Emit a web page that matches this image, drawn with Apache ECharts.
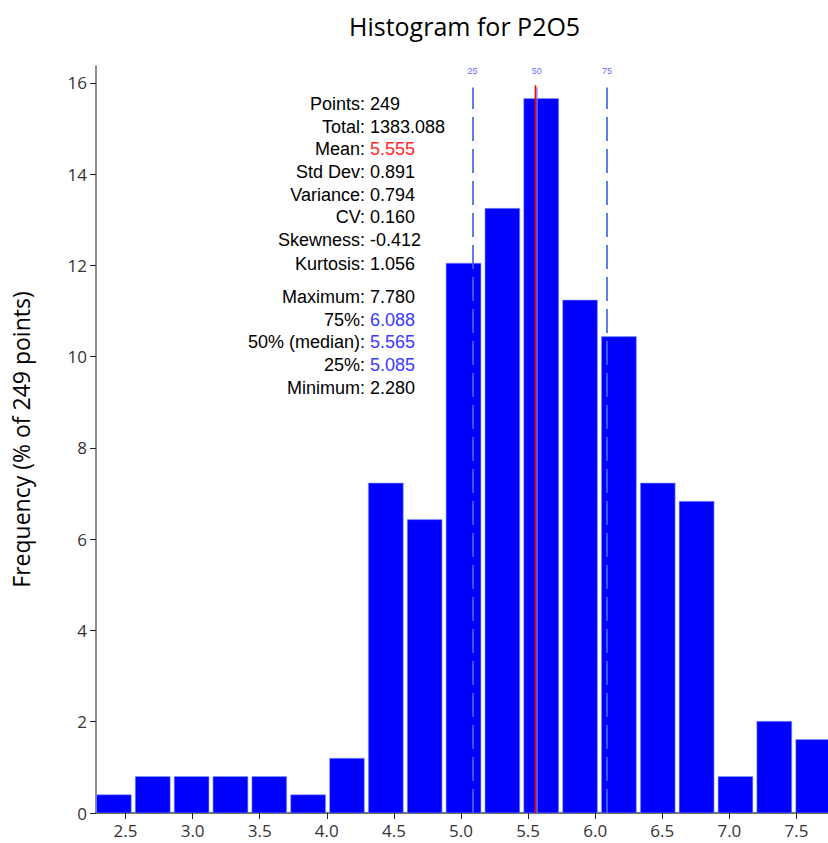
<!DOCTYPE html>
<html>
<head>
<meta charset="utf-8">
<title>Histogram for P2O5</title>
<script src="https://cdn.jsdelivr.net/npm/echarts@6/dist/echarts.min.js"></script>
<style>
  html, body { margin: 0; padding: 0; background: #fff; }
  #chart { width: 828px; height: 843px; }
</style>
</head>
<body>
<div id="chart"></div>
<script>
// bin edges (19 bins from min 2.28 to max 7.78)
var binEdges = [2.280, 2.569, 2.859, 3.148, 3.438, 3.727, 4.017, 4.306, 4.596, 4.885,
                5.175, 5.464, 5.754, 6.043, 6.333, 6.622, 6.912, 7.201, 7.491, 7.780];
// frequency in % of 249 points
var freqs = [0.40, 0.80, 0.80, 0.80, 0.80, 0.40, 1.20, 7.23, 6.43, 12.05,
             13.25, 15.66, 11.24, 10.44, 7.23, 6.83, 0.80, 2.01, 1.61];
var xTicks = [2.5, 3.0, 3.5, 4.0, 4.5, 5.0, 5.5, 6.0, 6.5, 7.0, 7.5];
var yTicks = [0, 2, 4, 6, 8, 10, 12, 14, 16];

var statNames = ["Points:", "Total:", "Mean:", "Std Dev:", "Variance:", "CV:", "Skewness:", "Kurtosis:",
                 "Maximum:", "75%:", "50% (median):", "25%:", "Minimum:"];
var statValues = ["249", "1383.088", "5.555", "0.891", "0.794", "0.160", "-0.412", "1.056",
                  "7.780", "6.088", "5.565", "5.085", "2.280"];

var meanValue = 5.555;
var p25 = 5.085, p50 = 5.565, p75 = 6.088;
var lineTop = 15.9;

var myChart = echarts.init(document.getElementById("chart"), null, { renderer: "svg" });

var histData = [];
for (var i = 0; i < freqs.length; i++) {
  histData.push([binEdges[i], binEdges[i + 1], freqs[i]]);
}

// stats block text
var statGraphics = [];
var rowY = [104, 127, 149, 172, 195, 217, 240, 264, 297, 320, 342, 365, 388];
var valueColors = ["#000", "#000", "#ff2a2a", "#000", "#000", "#000", "#000", "#000",
                   "#000", "#3a3aff", "#3a3aff", "#3a3aff", "#000"];
for (var k = 0; k < statNames.length; k++) {
  statGraphics.push({
    type: "text", x: 365, y: rowY[k],
    style: { text: statNames[k], align: "right", verticalAlign: "middle",
             font: '18px "Liberation Sans", Arial, sans-serif', fill: "#000" }
  });
  statGraphics.push({
    type: "text", x: 370, y: rowY[k],
    style: { text: statValues[k], align: "left", verticalAlign: "middle",
             font: '18px "Liberation Sans", Arial, sans-serif', fill: valueColors[k] }
  });
}

function pctLine(x, name, dashed, color) {
  return [
    { coord: [x, 0], lineStyle: { color: color, width: dashed ? 2 : 1.5, type: dashed ? [24, 8] : "solid", opacity: 0.85 },
      label: { show: true, position: "end", formatter: name, color: "#4848ff", fontSize: 9, distance: 12 } },
    { coord: [x, lineTop] }
  ];
}

var option = {
  animation: false,
  title: {
    text: "Histogram for P2O5",
    left: 344,
    top: 8,
    textStyle: { fontFamily: "Open Sans", fontSize: 25, fontWeight: "normal", color: "#000" }
  },
  grid: { left: 96, right: 0, top: 66, bottom: 30 },
  xAxis: {
    type: "value",
    min: 2.28,
    max: 7.735,
    axisLine: { show: true, lineStyle: { color: "#444", width: 1.5 } },
    axisTick: { show: true, length: 6, customValues: xTicks, lineStyle: { color: "#222" } },
    axisLabel: { customValues: xTicks, color: "#333", fontFamily: "Open Sans", fontSize: 17, margin: 9,
                 formatter: function (v) { return v.toFixed(1); } },
    splitLine: { show: false }
  },
  yAxis: {
    type: "value",
    min: 0,
    max: 16.37,
    name: "Frequency (% of 249 points)",
    nameLocation: "middle",
    nameGap: 64,
    nameTextStyle: { fontFamily: "Open Sans", fontSize: 23, color: "#000" },
    axisLine: { show: true, lineStyle: { color: "#666", width: 1.5 } },
    axisTick: { show: true, length: 6, customValues: yTicks, lineStyle: { color: "#222" } },
    axisLabel: { customValues: yTicks, color: "#333", fontFamily: "Open Sans", fontSize: 17, margin: 9 },
    splitLine: { show: false }
  },
  series: [
    {
      type: "custom",
      name: "P2O5",
      data: histData,
      encode: { x: [0, 1], y: 2 },
      clip: true,
      renderItem: function (params, api) {
        var p0 = api.coord([api.value(0), api.value(2)]);
        var p1 = api.coord([api.value(1), 0]);
        return {
          type: "rect",
          shape: { x: p0[0] + 0.5, y: p0[1], width: p1[0] - p0[0] - 4, height: p1[1] - p0[1] },
          style: { fill: "#0000ff", stroke: "#8aa0ff", lineWidth: 0.6 }
        };
      },
      markLine: {
        symbol: "none",
        silent: true,
        data: [
          pctLine(p25, "25", true, "#4169e1"),
          pctLine(p75, "75", true, "#4169e1"),
          pctLine(p50, "50", false, "#7792e8")
        ]
      }
    },
    {
      type: "line",
      name: "Mean",
      z: 10,
      silent: true,
      showSymbol: false,
      data: [[meanValue, 0], [meanValue, lineTop + 0.05]],
      lineStyle: { color: "#ff0000", width: 1.6 }
    }
  ],
  graphic: statGraphics
};

myChart.setOption(option);
</script>
</body>
</html>
